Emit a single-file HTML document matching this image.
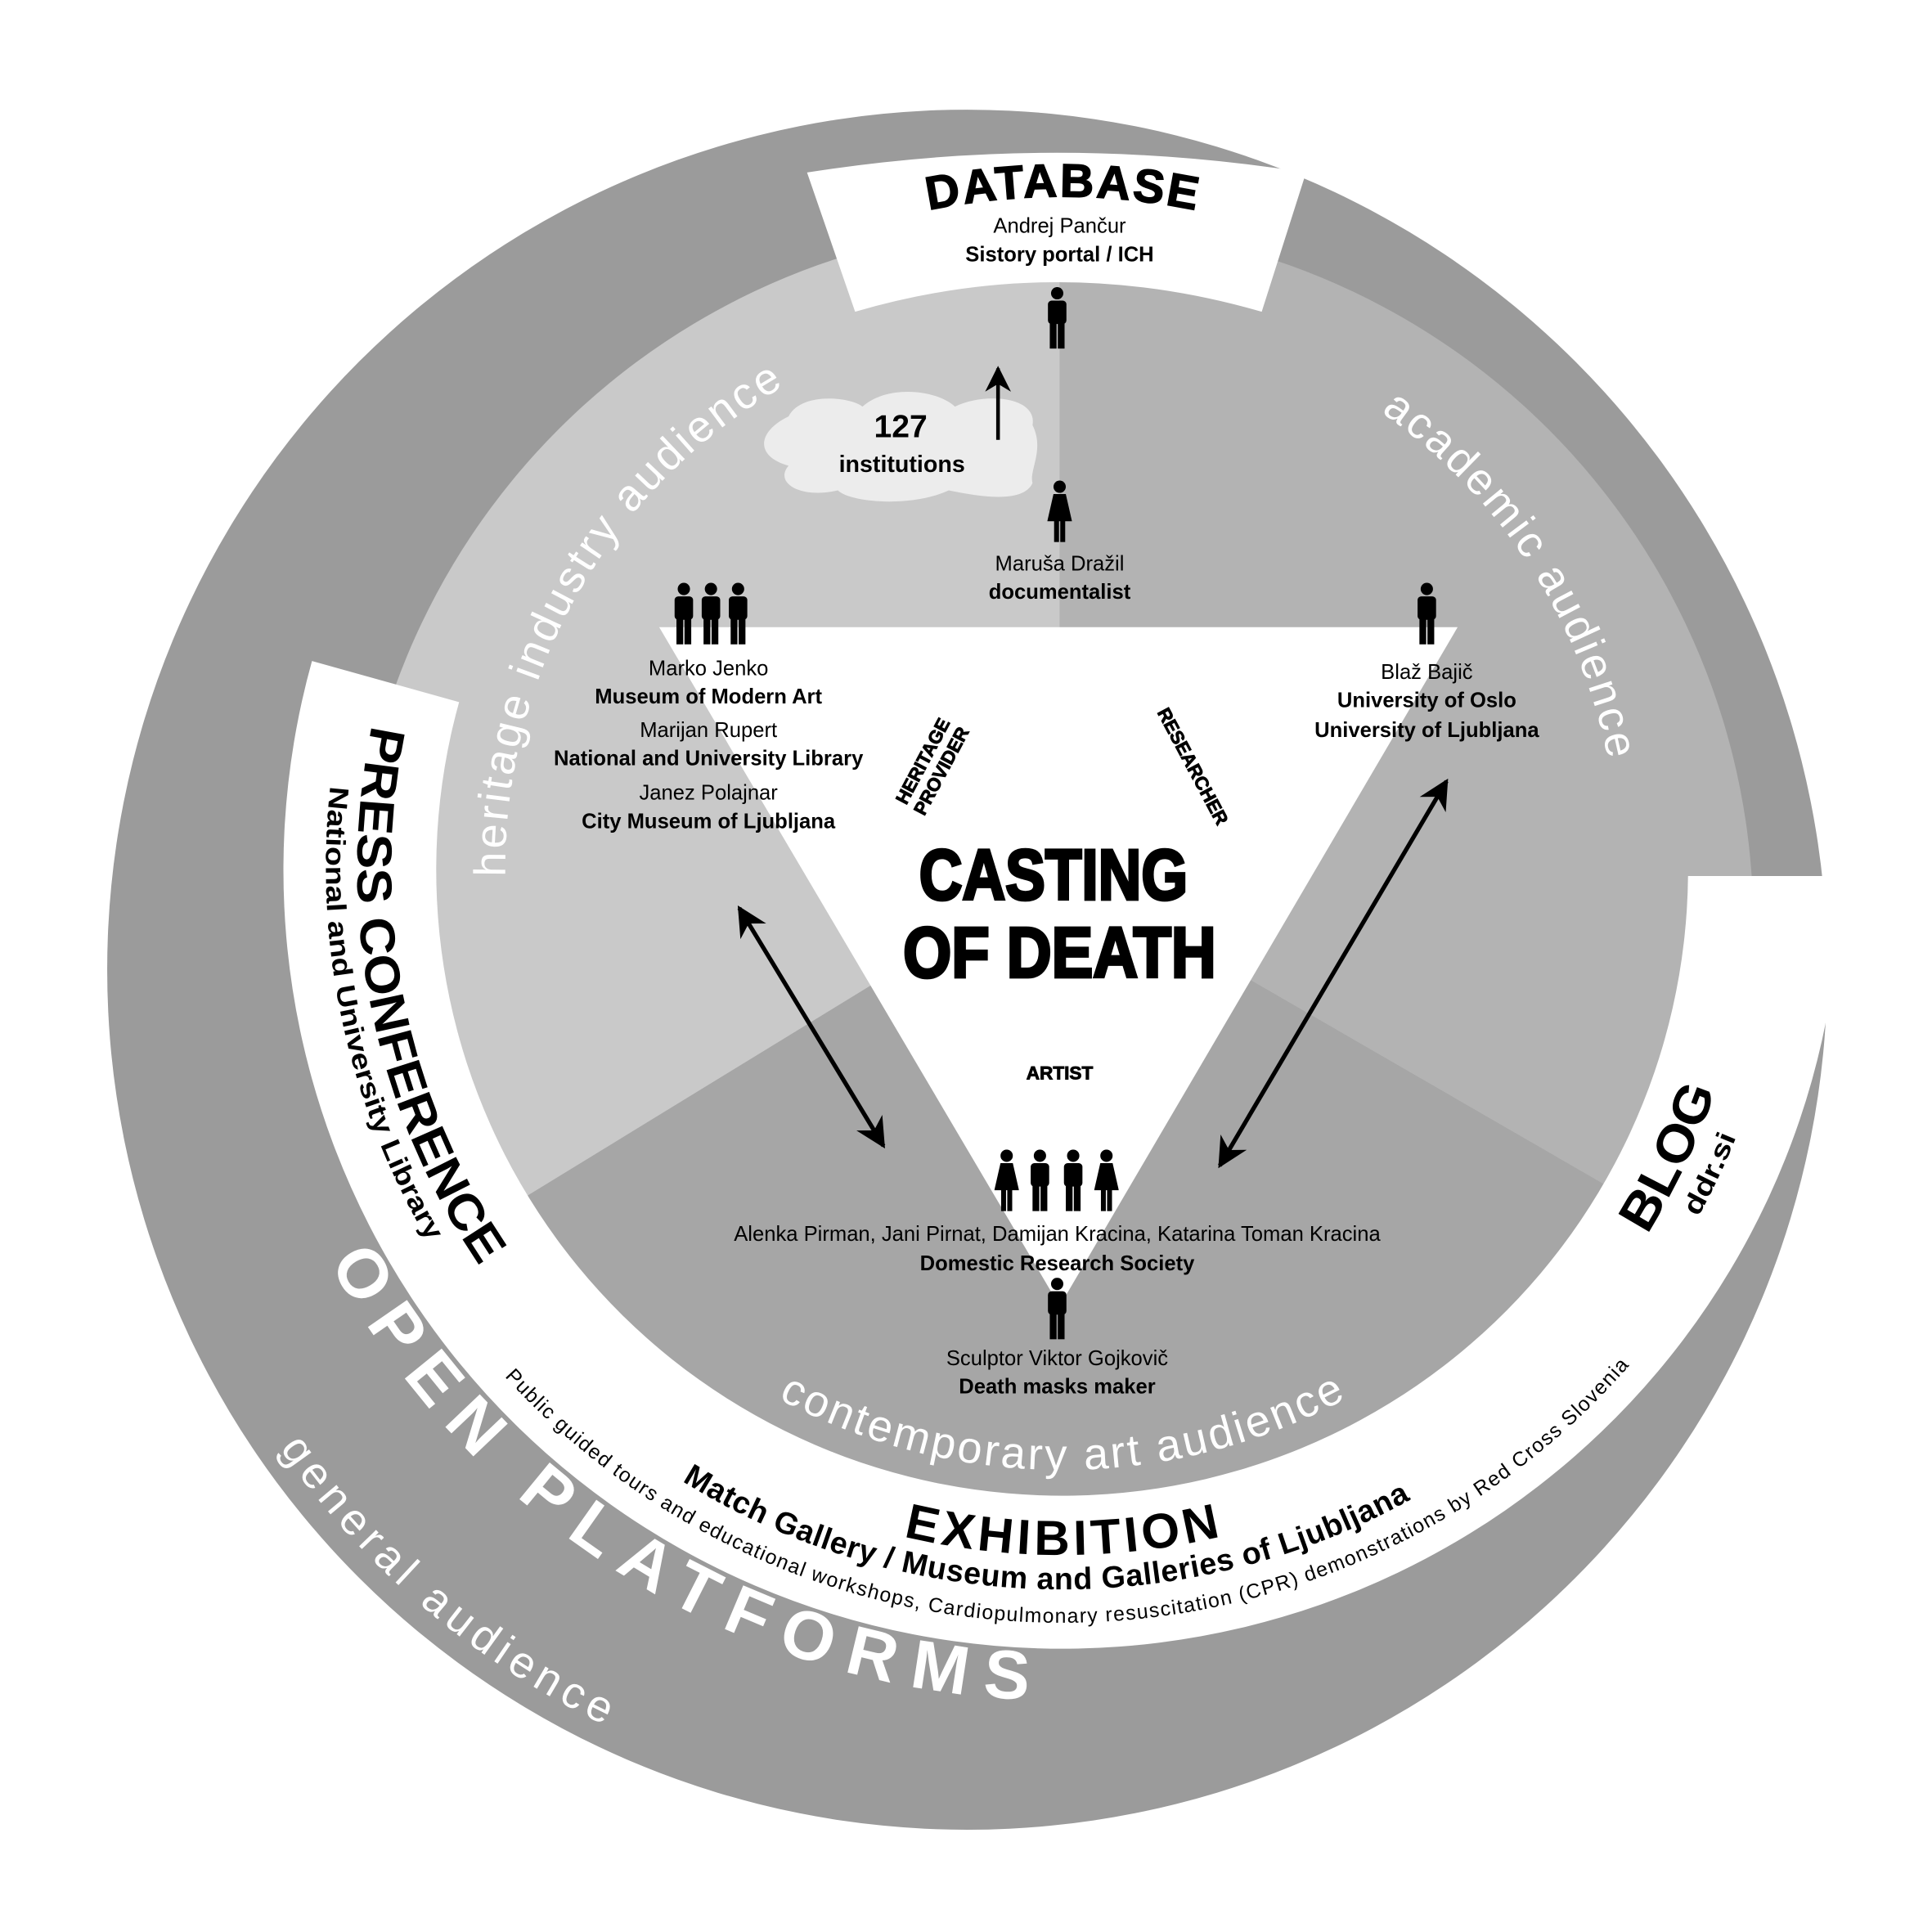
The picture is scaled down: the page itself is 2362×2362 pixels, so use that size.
<!DOCTYPE html>
<html><head><meta charset="utf-8"><style>
html,body{margin:0;padding:0;background:#fff;width:2362px;height:2362px;overflow:hidden}
svg{display:block}
text{font-family:"Liberation Sans",sans-serif}
</style></head><body>
<svg xmlns="http://www.w3.org/2000/svg" width="2362" height="2362" viewBox="0 0 1568 1568">
<defs>
<clipPath id="pie"><circle cx="855" cy="750" r="568"/></clipPath>
<symbol id="man" viewBox="0 0 20 50"><circle cx="10" cy="5" r="5"/><rect x="2.5" y="11" width="15" height="19" rx="3"/><rect x="4" y="27" width="5.5" height="23"/><rect x="10.5" y="27" width="5.5" height="23"/></symbol>
<symbol id="woman" viewBox="0 0 20 50"><circle cx="10" cy="5" r="5"/><path d="M5 11 H15 L20 33 H0 Z"/><rect x="5.5" y="32" width="4" height="18"/><rect x="10.5" y="32" width="4" height="18"/></symbol>
<marker id="ah" viewBox="0 0 10 10" refX="9" refY="5" markerWidth="7" markerHeight="7" orient="auto-start-reverse"><path d="M0 0 L10 5 L0 10 L3 5 Z" fill="#000"/></marker>
<path id="pContemp" d="M439.4,949 A488,488 0 0 0 1284.6,949"/>
<path id="pExhib" d="M379.6,983.5 A557,557 0 0 0 1344.4,983.5"/>
<path id="pMatch" d="M355.4,997.5 A585,585 0 0 0 1368.6,997.5"/>
<path id="pPublic" d="M286.9,914.3 A612,612 0 0 0 1437.1,914.3"/>
<path id="pOpen" d="M197.3,822.2 A675,675 0 0 0 1199.5,1289.6"/>
<path id="pGeneral" d="M115.3,905.1 A680,680 0 0 0 903.1,1456.7"/>
<path id="pHer" d="M416.9,783.5 A452,452 0 0 1 783.5,259.9"/>
<path id="pAcad" d="M1016.6,280.3 A452,452 0 0 1 1307.1,783.5"/>
<path id="pPress" d="M366.6,419 A572,572 0 0 0 494.3,1143.2"/>
<path id="pNat" d="M343.6,407 A596,596 0 0 0 478.9,1161.6"/>
<path id="pBlog" d="M1222,1134 A560,560 0 0 0 1422,705"/>
<path id="pDdr" d="M1240,1155 A590,590 0 0 0 1452,705"/>
<path id="pDb" d="M589.5,232.7 A545,545 0 0 1 1134.5,232.7"/>
</defs>

<circle cx="785" cy="787" r="698" fill="#9b9b9b"/>

<g clip-path="url(#pie)">
<path d="M860,706 L860,-300 L-600,-300 L-600,1600 Z" fill="#c9c9c9"/>
<path d="M860,706 L860,-300 L2200,-300 L2200,1480 Z" fill="#b3b3b3"/>
<path d="M860,706 L2200,1480 L2200,1700 L-600,1700 L-600,1600 Z" fill="#a6a6a6"/>
</g>

<path d="M1494,711 A632,632 0 1 1 253.2,536.5 L372.6,569.8 A508,508 0 1 0 1370,711 Z" fill="#fff"/>

<path d="M655,140 Q858,108 1060,140 L1024,253 Q858,205 694,253 Z" fill="#fff"/>

<path d="M535,509 L1183,509 L860,1060 Z" fill="#fff"/>

<path d="M640,338 C650,318 690,322 700,330 C720,312 760,316 775,330 C800,318 842,322 838,345 C848,365 835,382 838,392 C830,410 790,402 770,398 C740,412 690,408 680,398 C650,405 628,392 640,378 C612,370 615,350 640,338 Z" fill="#ececec"/>

<line x1="810" y1="357" x2="810" y2="299" stroke="#000" stroke-width="3" marker-end="url(#ah)"/>
<line x1="600" y1="737" x2="717" y2="930" stroke="#000" stroke-width="3.5" marker-start="url(#ah)" marker-end="url(#ah)"/>
<line x1="1174" y1="634" x2="990" y2="946" stroke="#000" stroke-width="3.5" marker-start="url(#ah)" marker-end="url(#ah)"/>

<use href="#man" x="848" y="233" width="20" height="50"/>
<use href="#woman" x="850" y="390" width="20" height="50"/>
<use href="#man" x="545" y="473" width="20" height="50"/>
<use href="#man" x="567" y="473" width="20" height="50"/>
<use href="#man" x="589" y="473" width="20" height="50"/>
<use href="#man" x="1148" y="473" width="20" height="50"/>
<use href="#woman" x="807" y="933" width="20" height="50"/>
<use href="#man" x="834" y="933" width="20" height="50"/>
<use href="#man" x="861" y="933" width="20" height="50"/>
<use href="#woman" x="888" y="933" width="20" height="50"/>
<use href="#man" x="848" y="1037" width="20" height="50"/>

<g fill="#fff" font-size="36">
<text><textPath href="#pContemp" startOffset="50%" text-anchor="middle" textLength="480">contemporary art audience</textPath></text>
<text><textPath href="#pGeneral" startOffset="44%" text-anchor="middle" textLength="350">general audience</textPath></text>
<text><textPath href="#pHer" startOffset="44%" text-anchor="middle" textLength="480">heritage industry audience</textPath></text>
<text><textPath href="#pAcad" startOffset="46%" text-anchor="middle" textLength="345">academic audience</textPath></text>
<text font-weight="bold" font-size="56"><textPath href="#pOpen" startOffset="43.6%" text-anchor="middle" textLength="700">OPEN PLATFORMS</textPath></text>
</g>

<g fill="#000" font-weight="bold">
<text font-size="40"><textPath href="#pExhib" startOffset="50%" text-anchor="middle" textLength="260">EXHIBITION</textPath></text>
<text font-size="25"><textPath href="#pMatch" startOffset="48.8%" text-anchor="middle" textLength="620">Match Gallery / Museum and Galleries of Ljubljana</textPath></text>
<text font-size="40"><textPath href="#pPress" startOffset="51.6%" text-anchor="middle" textLength="460" lengthAdjust="spacingAndGlyphs">PRESS CONFERENCE</textPath></text>
<text font-size="22"><textPath href="#pNat" startOffset="52.5%" text-anchor="middle" textLength="385" lengthAdjust="spacingAndGlyphs">National and University Library</textPath></text>
<text font-size="42"><textPath href="#pBlog" startOffset="49.2%" text-anchor="middle" textLength="130" lengthAdjust="spacingAndGlyphs">BLOG</textPath></text>
<text font-size="22"><textPath href="#pDdr" startOffset="49.5%" text-anchor="middle" textLength="72" lengthAdjust="spacingAndGlyphs">ddr.si</textPath></text>
<text font-size="38" stroke="#000" stroke-width="1"><textPath href="#pDb" startOffset="50%" text-anchor="middle" textLength="218">DATABASE</textPath></text>
</g>
<text font-size="16.5" fill="#000"><textPath href="#pPublic" startOffset="50.4%" text-anchor="middle" textLength="1030">Public guided tours and educational workshops, Cardiopulmonary resuscitation (CPR) demonstrations by Red Cross Slovenia</textPath></text>

<g font-size="17" fill="#000" text-anchor="middle">
<text x="860" y="189">Andrej Pančur</text>
<text x="860" y="212" font-weight="bold">Sistory portal / ICH</text>
<text x="731" y="355" font-size="26" font-weight="bold">127</text>
<text x="732" y="383" font-size="19" font-weight="bold">institutions</text>
<text x="860" y="463">Maruša Dražil</text>
<text x="860" y="486" font-weight="bold">documentalist</text>
<text x="575" y="548">Marko Jenko</text>
<text x="575" y="571" font-weight="bold">Museum of Modern Art</text>
<text x="575" y="598">Marijan Rupert</text>
<text x="575" y="621" font-weight="bold">National and University Library</text>
<text x="575" y="649">Janez Polajnar</text>
<text x="575" y="672" font-weight="bold">City Museum of Ljubljana</text>
<text x="1158" y="551">Blaž Bajič</text>
<text x="1158" y="574" font-weight="bold">University of Oslo</text>
<text x="1158" y="598" font-weight="bold">University of Ljubljana</text>
<text x="858" y="1007">Alenka Pirman, Jani Pirnat, Damijan Kracina, Katarina Toman Kracina</text>
<text x="858" y="1031" font-weight="bold">Domestic Research Society</text>
<text x="858" y="1108">Sculptor Viktor Gojkovič</text>
<text x="858" y="1131" font-weight="bold">Death masks maker</text>
<text x="860" y="876" font-size="15" font-weight="bold" stroke="#000" stroke-width="0.6">ARTIST</text>
<text x="855" y="730" font-size="58" font-weight="bold" stroke="#000" stroke-width="2.5" textLength="218" lengthAdjust="spacingAndGlyphs">CASTING</text>
<text x="860" y="793" font-size="58" font-weight="bold" stroke="#000" stroke-width="2.5" textLength="254" lengthAdjust="spacingAndGlyphs">OF DEATH</text>
<g transform="translate(757,622) rotate(-62)" font-size="15" font-weight="bold" stroke="#000" stroke-width="0.6">
<text x="0" y="-4">HERITAGE</text><text x="0" y="13">PROVIDER</text>
</g>
<text transform="translate(968,622) rotate(62)" font-size="15" font-weight="bold" stroke="#000" stroke-width="0.6" y="5">RESEARCHER</text>
</g>
</svg>
</body></html>
